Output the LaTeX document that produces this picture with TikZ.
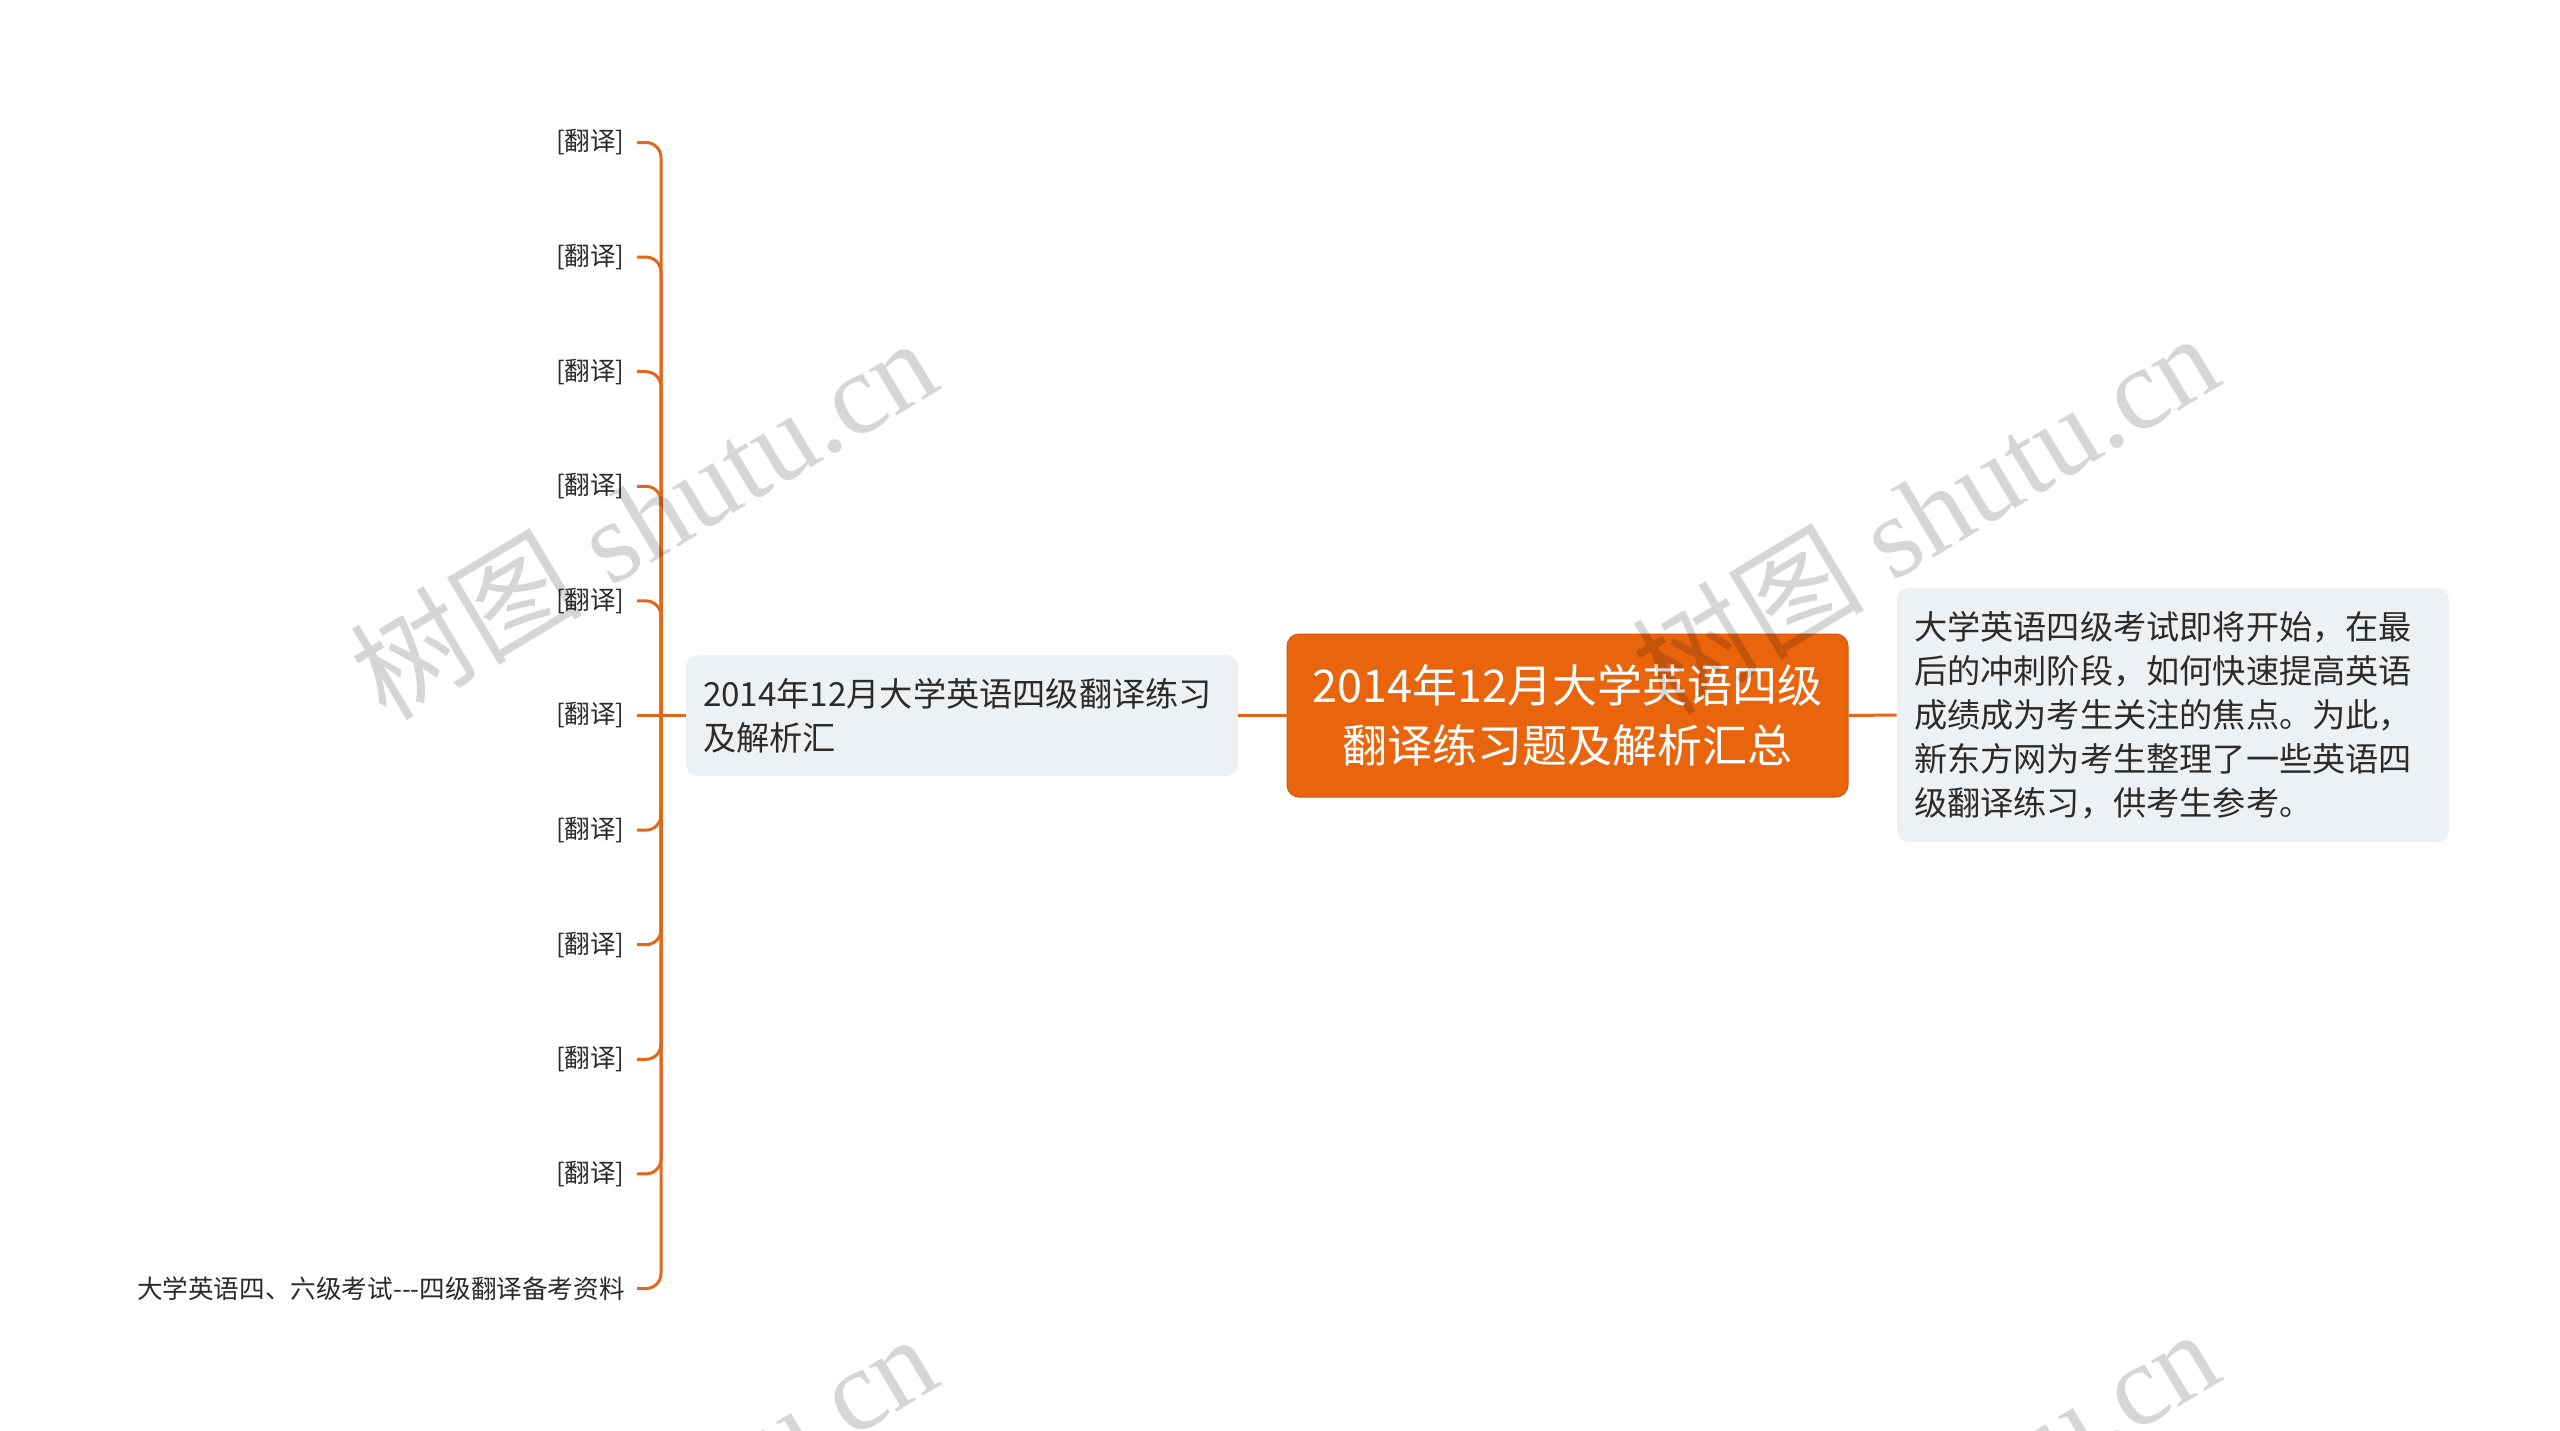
\documentclass[tikz,border=0pt]{standalone}
\usepackage{fontspec}
\setmainfont{Noto Sans CJK SC}
\newfontfamily\cjk{Noto Sans CJK SC}
\newfontfamily\wmfont{Liberation Serif}
\definecolor{orangefill}{HTML}{E9650D}
\definecolor{orangeline}{HTML}{E2671A}
\definecolor{subfill}{HTML}{EEF1F4}
\definecolor{textdark}{HTML}{2B2B2B}
\tikzset{
  centralbox/.style={fill=orangefill, draw=orangefill!90!black, line width=0.5pt, rounded corners=6pt, text=white,
    font=\fontsize{22.5}{30}\selectfont, align=center, minimum width=280.5pt, minimum height=81.5pt, inner sep=0pt},
  subbox/.style={fill=subfill, rounded corners=6pt, text=textdark, font=\fontsize{16.6}{22}\selectfont,
    align=left, text width=259pt, inner xsep=8.5pt, inner ysep=0pt},
  leaf/.style={anchor=east, text=textdark, font=\fontsize{12.8}{15}\selectfont, inner xsep=6pt, inner ysep=2pt},
  conn/.style={draw=orangeline, line width=1.5pt},
  branch/.style={conn, rounded corners=7.5pt},
  watermark/.style={rotate=31, text=black, text opacity=0.16, font=\wmfont\fontsize{58}{58}\selectfont, inner sep=0pt}
}
\begin{document}
\begin{tikzpicture}[x=0.5pt, y=-0.5pt]
\useasboundingbox (0,0) rectangle (2560,1430);
\fill[white] (0,0) rectangle (2560,1430);

\node[centralbox] (root) at (1567.5,715.5) {2014年12月大学英语四级\\翻译练习题及解析汇总};
\node[subbox, minimum height=60.5pt] (left) at (962,715.5) {2014年12月大学英语四级翻译练习\\及解析汇};
\node[subbox, minimum height=127pt] (right) at (2173,715) {大学英语四级考试即将开始，在最\\后的冲刺阶段，如何快速提高英语\\成绩成为考生关注的焦点。为此，\\新东方网为考生整理了一些英语四\\级翻译练习，供考生参考。};

\draw[conn] (root.west) -- (left.east);
\draw[conn] (root.east) -- (right.west);

\coordinate (hub) at (661,715.5);
\draw[conn] (left.west) -- (hub);

\foreach \i in {0,...,9} {
  \node[leaf] (l\i) at (637,{715.5+(\i-5)*114.6}) {[翻译]};
}
\node[leaf] (l10) at (637,{715.5+5*114.6}) {大学英语四、六级考试-{}-{}-四级翻译备考资料};

\foreach \i in {0,...,4,6,7,8,9,10} {
  \draw[branch] (l\i.east) -| (hub);
}
\draw[conn] (l5.east) -- (hub);

\begin{scope}
\clip (0,0) rectangle (2560,1430);
\node[watermark] (wm1) at (643,517) {{\cjk 树图} shutu.cn};
\node[watermark] (wm2) at (1925,512) {{\cjk 树图} shutu.cn};
\node[watermark] (wm3) at (643,1513) {{\cjk 树图} shutu.cn};
\node[watermark] (wm4) at (1925,1508) {{\cjk 树图} shutu.cn};
\end{scope}
\end{tikzpicture}
\end{document}
